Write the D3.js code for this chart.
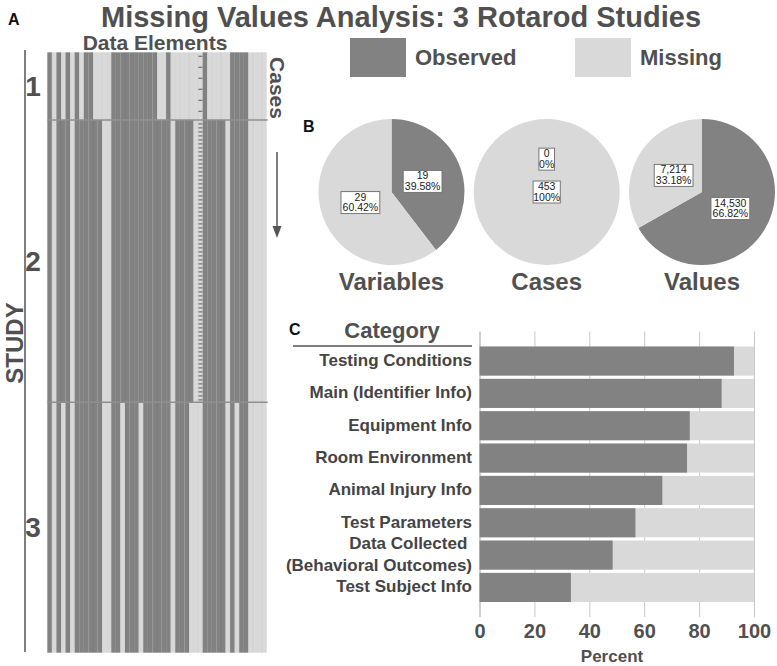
<!DOCTYPE html>
<html><head><meta charset="utf-8">
<script src="https://cdn.jsdelivr.net/npm/d3@7"></script>
<style>
body{margin:0;background:#fff}
svg{display:block}
text{font-family:"Liberation Sans",Arial,sans-serif;}
</style>
</head><body>
<svg id="c" width="777" height="666"></svg>
<script>
// ---------------- data ----------------
const title = "Missing Values Analysis: 3 Rotarod Studies";
const legendLabels = ["Observed", "Missing"];
const panelLetters = ["A", "B", "C"];

const studies = ["1", "2", "3"];
const studyCases = [51, 213, 189];
// D = observed, L = missing, M = partly missing (mixed cases)
const studyPatterns = [
  "DLDLDLDLDDLLLLDDDDDDDDDDLLDLLLLLLMDLLLLLDDDDLLLL",
  "DLDDDLDDDDDDLLDDDDDDDDDDDDDLDDDDLMDDDDDLDDDDLLLL",
  "DLDLDLDDDDDDLLDDLDDDLDDDDDDLDDDLLLDDDDDLDLDDLLLL"
];

const pieNames = ["Variables", "Cases", "Values"];
const pieObserved = [19, 0, 14530];
const pieMissing = [29, 453, 7214];
const pieObservedPct = ["39.58%", "0%", "66.82%"];
const pieMissingPct = ["60.42%", "100%", "33.18%"];

const categories = [
  "Testing Conditions",
  "Main (Identifier Info)",
  "Equipment Info",
  "Room Environment",
  "Animal Injury Info",
  "Test Parameters",
  "Data Collected \n(Behavioral Outcomes)",
  "Test Subject Info"
];
const observedPct = [92.7, 88.2, 76.6, 75.6, 66.6, 56.8, 48.5, 33.3];
const xTicks = [0, 20, 40, 60, 80, 100];

// ---------------- style ----------------
const DARK = "#828282", LIGHT = "#d9d9d9", TXT = "#505050";
const svg = d3.select("#c");

// title
svg.append("text").attr("x", 401).attr("y", 27).attr("text-anchor", "middle")
  .attr("font-size", 29).attr("font-weight", "bold").attr("fill", TXT).text(title);

// panel letters
const letterPos = [[8, 25], [303, 132], [289, 335]];
panelLetters.forEach((l, i) => {
  svg.append("text").attr("x", letterPos[i][0]).attr("y", letterPos[i][1])
    .attr("font-size", 16).attr("font-weight", "bold").attr("fill", "#111").text(l);
});

// legend
const legColors = [DARK, LIGHT];
const legX = [350, 575];
legendLabels.forEach((l, i) => {
  svg.append("rect").attr("x", legX[i]).attr("y", 38).attr("width", 56).attr("height", 39).attr("fill", legColors[i]);
  svg.append("text").attr("x", legX[i] + 65).attr("y", 65).attr("font-size", 22)
    .attr("font-weight", "bold").attr("fill", TXT).text(l);
});

// ---------------- panel A: missing pattern matrix ----------------
const nCols = studyPatterns[0].length;
const totalCases = d3.sum(studyCases);
const xm = d3.scaleBand().domain(d3.range(nCols)).range([47.3, 266.7]).padding(0);
const ym = d3.scaleLinear().domain([0, totalCases]).range([52.3, 652.7]);
const cum = [0]; studyCases.forEach((c, i) => cum.push(cum[i] + c));

const gA = svg.append("g");
const cells = [];
studyPatterns.forEach((p, s) => {
  p.split("").forEach((code, c) => cells.push({s, c, code}));
});
gA.selectAll("rect.cell").data(cells).join("rect").attr("class", "cell")
  .attr("x", d => xm(d.c)).attr("width", xm.bandwidth())
  .attr("y", d => ym(cum[d.s])).attr("height", d => ym(cum[d.s + 1]) - ym(cum[d.s]))
  .attr("fill", d => d.code === "D" ? DARK : LIGHT);

// column separators
gA.selectAll("line.sep").data(d3.range(1, nCols)).join("line").attr("class", "sep")
  .attr("x1", d => xm(d)).attr("x2", d => xm(d)).attr("y1", ym(0)).attr("y2", ym(totalCases))
  .attr("stroke", "#000").attr("stroke-opacity", 0.07).attr("stroke-width", 0.8);

// mixed columns: dashed case marks
const dashStep = [11, 4, 4];
cells.filter(d => d.code === "M").forEach(d => {
  const y0 = ym(cum[d.s]), y1 = ym(cum[d.s + 1]);
  gA.selectAll(null).data(d3.range(y0 + 4, y1 - 1, dashStep[d.s])).join("line")
    .attr("x1", xm(d.c) + 0.3).attr("x2", xm(d.c) + xm.bandwidth() - 0.3)
    .attr("y1", y => y).attr("y2", y => y)
    .attr("stroke", "#6e6e6e").attr("stroke-width", 1.2);
});

// study boundaries
gA.selectAll("line.sb").data(cum.slice(1, -1)).join("line").attr("class", "sb")
  .attr("x1", xm.range()[0]).attr("x2", xm.range()[1] + 1)
  .attr("y1", d => ym(d)).attr("y2", d => ym(d))
  .attr("stroke", "#8f8f8f").attr("stroke-width", 1.5);

// study labels
studies.forEach((s, i) => {
  const yc = ym((cum[i] + cum[i + 1]) / 2) + 10;
  svg.append("text").attr("x", 33).attr("y", yc).attr("text-anchor", "middle")
    .attr("font-size", 28).attr("font-weight", "bold").attr("fill", TXT).text(s);
});
svg.append("line").attr("x1", 25).attr("x2", 25).attr("y1", 50).attr("y2", 652)
  .attr("stroke", "#555").attr("stroke-width", 1.5);
svg.append("text").attr("transform", "translate(23,343) rotate(-90)").attr("text-anchor", "middle")
  .attr("font-size", 24).attr("font-weight", "bold").attr("fill", TXT).text("STUDY");
svg.append("text").attr("x", 155).attr("y", 50).attr("text-anchor", "middle")
  .attr("font-size", 21).attr("font-weight", "bold").attr("fill", TXT).text("Data Elements");
svg.append("text").attr("transform", "translate(270,88) rotate(90)").attr("text-anchor", "middle")
  .attr("font-size", 21).attr("font-weight", "bold").attr("fill", TXT).text("Cases");
svg.append("line").attr("x1", 277).attr("x2", 277).attr("y1", 152).attr("y2", 228)
  .attr("stroke", "#555").attr("stroke-width", 1.5);
svg.append("path").attr("d", "M272.5,226 L281.5,226 L277,238 Z").attr("fill", "#555");

// ---------------- panel B: pies ----------------
const pieCx = [391.5, 546.7, 702];
const pieCy = 192, pieR = 73;
const pie = d3.pie().sort(null).value(d => d.v);
const arc = d3.arc().innerRadius(0).outerRadius(pieR);
const labelArc = d3.arc().innerRadius(pieR * 0.9).outerRadius(0);
pieNames.forEach((name, i) => {
  const data = [
    {v: pieObserved[i], pct: pieObservedPct[i], col: DARK},
    {v: pieMissing[i], pct: pieMissingPct[i], col: LIGHT}
  ];
  const g = svg.append("g").attr("transform", `translate(${pieCx[i]},${pieCy})`);
  const arcs = pie(data);
  g.selectAll("path").data(arcs).join("path").attr("d", arc).attr("fill", d => d.data.col);
  arcs.forEach(a => {
    let [lx, ly] = labelArc.centroid(a);
    if (a.endAngle - a.startAngle >= 2 * Math.PI - 1e-6) { lx = 0; ly = 0; }
    const lg = g.append("g").attr("transform", `translate(${lx},${ly})`);
    const l1 = d3.format(",")(a.data.v), l2 = a.data.pct;
    const w = Math.max(l1.length, l2.length) * 5.8 + 4;
    lg.append("rect").attr("x", -w / 2).attr("y", -11).attr("width", w).attr("height", 22)
      .attr("fill", "#fff").attr("stroke", "#777").attr("stroke-width", 1);
    lg.append("text").attr("y", -2).attr("text-anchor", "middle").attr("font-size", 10.5).attr("fill", "#222").text(l1);
    lg.append("text").attr("y", 8.5).attr("text-anchor", "middle").attr("font-size", 10.5).attr("fill", "#222").text(l2);
  });
  svg.append("text").attr("x", pieCx[i]).attr("y", 290).attr("text-anchor", "middle")
    .attr("font-size", 24).attr("font-weight", "bold").attr("fill", TXT).text(name);
});

// ---------------- panel C: stacked bars ----------------
const x = d3.scaleLinear().domain([0, 100]).range([479.5, 754]);
const y = d3.scaleBand().domain(categories).range([346.5, 602]).paddingInner(0.1).paddingOuter(0);
const gridTop = 331.5, axisY = 617;

const axis = d3.axisBottom(x).tickValues(xTicks).tickSizeInner(-(axisY - gridTop)).tickSizeOuter(0).tickPadding(7);
const gAx = svg.append("g").attr("transform", `translate(0,${axisY})`).call(axis);
gAx.select(".domain").remove();
gAx.selectAll(".tick line").attr("stroke", d => d === 0 ? "#a0a0a0" : "#c8c8c8").attr("stroke-width", 1);
gAx.selectAll(".tick text").attr("font-size", 20).attr("font-weight", "bold").attr("fill", TXT)
  .attr("font-family", "'Liberation Sans',Arial,sans-serif");

svg.append("text").attr("x", 612).attr("y", 662).attr("text-anchor", "middle")
  .attr("font-size", 17).attr("font-weight", "bold").attr("fill", TXT).text("Percent");

const gB = svg.append("g");
gB.selectAll("rect.miss").data(categories).join("rect").attr("class", "miss")
  .attr("x", x(0)).attr("width", x(100) - x(0))
  .attr("y", d => y(d)).attr("height", y.bandwidth()).attr("fill", LIGHT);
gB.selectAll("rect.obs").data(categories).join("rect").attr("class", "obs")
  .attr("x", x(0)).attr("width", (d, i) => x(observedPct[i]) - x(0))
  .attr("y", d => y(d)).attr("height", y.bandwidth()).attr("fill", DARK);

// category labels
categories.forEach(c => {
  const lines = c.split("\n");
  const yc = y(c) + y.bandwidth() / 2;
  const t = svg.append("text").attr("text-anchor", "end").attr("font-size", 17)
    .attr("font-weight", "bold").attr("fill", "#444");
  lines.forEach((ln, k) => {
    t.append("tspan").attr("x", 472).attr("y", yc + 5 + (k - (lines.length - 1) / 2) * 22)
      .attr("xml:space", "preserve").text(ln);
  });
});
svg.append("text").attr("x", 392).attr("y", 338).attr("text-anchor", "middle")
  .attr("font-size", 22).attr("font-weight", "bold").attr("fill", TXT).text("Category");
svg.append("line").attr("x1", 293).attr("x2", 472).attr("y1", 346).attr("y2", 346)
  .attr("stroke", "#555").attr("stroke-width", 1.5);
</script>
</body></html>
